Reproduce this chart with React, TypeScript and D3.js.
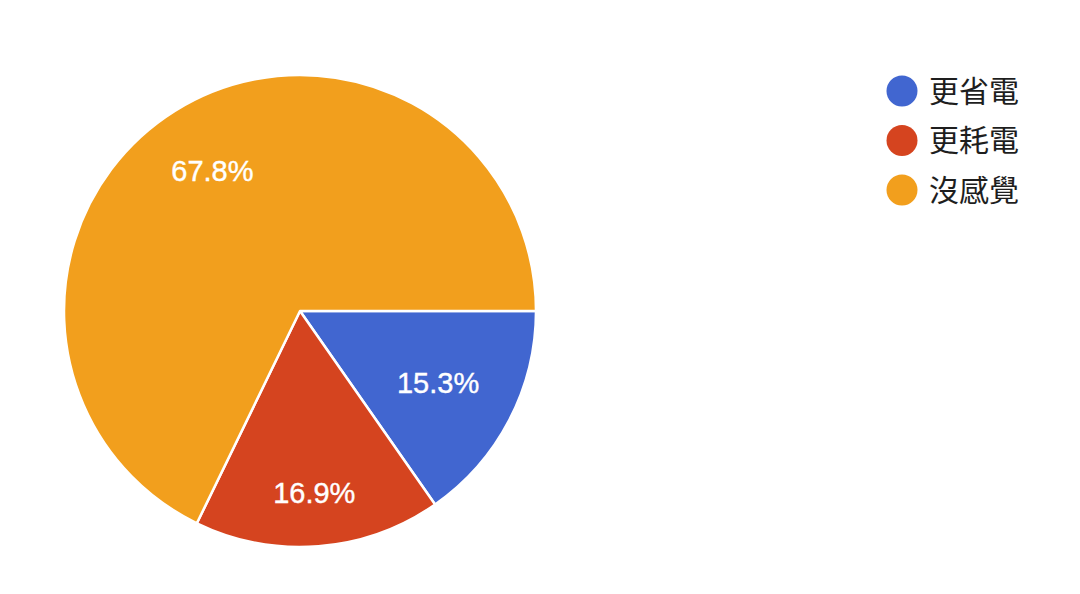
import React from "react";
import * as d3 from "d3";

const categories = ["更省電", "更耗電", "沒感覺"];
const values = [15.3, 16.9, 67.8];
const colors = ["#4166D0", "#D5441F", "#F29F1D"];
const labelRadiusFactor = [0.66, 0.77, 0.7];

export default function App() {
  const W = 1080, H = 594;
  const cx = 300, cy = 311, r = 236;
  const pie = d3.pie<number>().sort(null).value(d => d)
    .startAngle(Math.PI / 2).endAngle(Math.PI / 2 + 2 * Math.PI);
  const arcs = pie(values);
  const arcGen = d3.arc<d3.PieArcDatum<number>>().innerRadius(0).outerRadius(r);
  return (
    <svg width={W} height={H} style={{ position: "absolute", left: 0, top: 0, background: "#fff" }}>
      <g transform={`translate(${cx},${cy})`}>
        {arcs.map((a, i) => (
          <path key={i} d={arcGen(a) || ""} fill={colors[i]} stroke="#fff" strokeWidth={2.5} strokeLinejoin="round" />
        ))}
        {arcs.map((a, i) => {
          const lr = r * labelRadiusFactor[i];
          const c = d3.arc<d3.PieArcDatum<number>>().innerRadius(lr).outerRadius(lr).centroid(a);
          return (
            <text key={i} x={c[0]} y={c[1]} dy="0.36em" textAnchor="middle" fill="#fff"
              stroke="#fff" strokeWidth={0.4}
              fontFamily="'Liberation Sans', Arial, sans-serif" fontSize={29}>
              {values[i].toFixed(1)}%
            </text>
          );
        })}
      </g>
      <g>
        {categories.map((c, i) => (
          <g key={c} transform={`translate(902,${91 + i * 49.5})`}>
            <circle r={15.5} fill={colors[i]} />
            <text x={27} dy="0.36em" fill="#1e1e1e" fontSize={30}
              fontFamily="'Noto Sans CJK TC', 'Noto Sans CJK SC', sans-serif">{c}</text>
          </g>
        ))}
      </g>
    </svg>
  );
}
